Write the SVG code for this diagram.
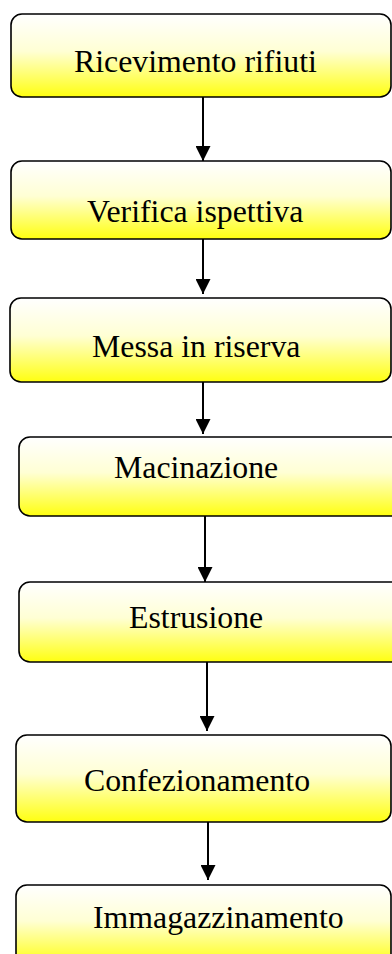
<svg xmlns="http://www.w3.org/2000/svg" width="392" height="954" viewBox="0 0 392 954">
<style>
.box{fill:url(#g);stroke:#000;stroke-width:1.6}
.lbl{font-family:"Liberation Serif","Times New Roman",serif;font-size:31.8px;fill:#000}
.con{stroke:#000;stroke-width:2;fill:none}
</style>
<defs>
<linearGradient id="g" x1="0" y1="0" x2="0" y2="1">
<stop offset="0" stop-color="#FFFFFF"/>
<stop offset="0.45" stop-color="#FFFFD4"/>
<stop offset="1" stop-color="#FFFF10"/>
</linearGradient>
<marker id="arr" viewBox="0 0 15 15" refX="15" refY="7.5" markerWidth="15" markerHeight="15" markerUnits="userSpaceOnUse" orient="auto">
<path d="M0,0 L15,7.5 L0,15 Z" fill="#000"/>
</marker>
</defs>
<g id="n1"><rect class="box" x="11" y="14" width="380" height="83" rx="11"/><text class="lbl" x="74" y="72">Ricevimento rifiuti</text></g>
<g id="n2"><rect class="box" x="11" y="161" width="380" height="78" rx="11"/><text class="lbl" x="87" y="222">Verifica ispettiva</text></g>
<g id="n3"><rect class="box" x="10" y="298" width="381" height="84" rx="11"/><text class="lbl" x="92" y="357">Messa in riserva</text></g>
<g id="n4"><rect class="box" x="19" y="437" width="385" height="79" rx="11"/><text class="lbl" x="114" y="478">Macinazione</text></g>
<g id="n5"><rect class="box" x="19" y="582" width="385" height="80" rx="11"/><text class="lbl" x="129" y="628">Estrusione</text></g>
<g id="n6"><rect class="box" x="16" y="735" width="375" height="87" rx="11"/><text class="lbl" x="84" y="791">Confezionamento</text></g>
<g id="n7"><rect class="box" x="16" y="885" width="375" height="80" rx="11"/><text class="lbl" x="93" y="928">Immagazzinamento</text></g>
<g id="connectors">
<line class="con" x1="203" y1="97" x2="203" y2="161" marker-end="url(#arr)"/>
<line class="con" x1="203" y1="239" x2="203" y2="294" marker-end="url(#arr)"/>
<line class="con" x1="203" y1="382" x2="203" y2="434" marker-end="url(#arr)"/>
<line class="con" x1="205" y1="516" x2="205" y2="582" marker-end="url(#arr)"/>
<line class="con" x1="207" y1="662" x2="207" y2="731" marker-end="url(#arr)"/>
<line class="con" x1="208" y1="822" x2="208" y2="880" marker-end="url(#arr)"/>
</g>
</svg>
